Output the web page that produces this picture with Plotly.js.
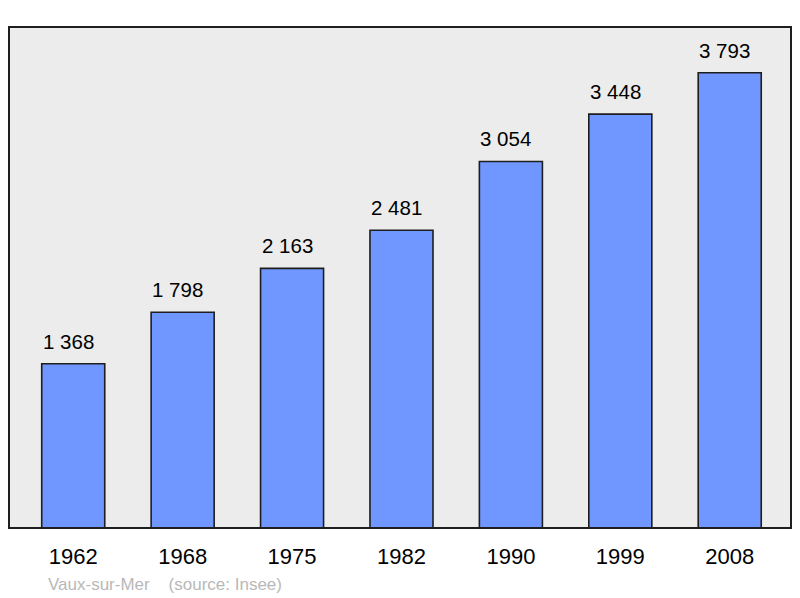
<!DOCTYPE html>
<html>
<head>
<meta charset="utf-8">
<script src="https://cdn.plot.ly/plotly-3.0.1.min.js"></script>
<style>
  html, body { margin: 0; padding: 0; background: #ffffff; }
  #grafico { width: 800px; height: 598px; }
</style>
</head>
<body>
<div id="grafico"></div>
<script>
// Population de Vaux-sur-Mer (source : Insee)
const annees = ['1962', '1968', '1975', '1982', '1990', '1999', '2008'];
const population = [1368, 1798, 2163, 2481, 3054, 3448, 3793];

const commune = 'Vaux-sur-Mer';
const source = '(source: Insee)';

function formater(n) {
  return String(n).replace(/\B(?=(\d{3})+(?!\d))/g, ' ');
}

const trazaBarras = {
  type: 'bar',
  x: annees,
  y: population,
  width: 0.576,
  marker: {
    color: '#7097ff',
    line: { color: '#1e1e1e', width: 1.6 }
  },
  hoverinfo: 'x+y'
};

const etiquetas = annees.map((a, i) => ({
  x: i,
  y: population[i],
  xref: 'x',
  yref: 'y',
  text: formater(population[i]),
  showarrow: false,
  xanchor: 'center',
  yanchor: 'bottom',
  xshift: -5,
  yshift: 9,
  font: { family: 'Liberation Sans, Arial, sans-serif', size: 20.5, color: '#000000' }
}));

// pied de page (pixels -> coordonnées papier)
const marge = { l: 9, r: 9, t: 27, b: 70 };
const largeur = 800 - marge.l - marge.r;
const hauteur = 598 - marge.t - marge.b;

etiquetas.push({
  x: (46 - marge.l) / largeur,
  y: (598 - marge.b - 584) / hauteur,
  xref: 'paper',
  yref: 'paper',
  text: commune + '&nbsp;&nbsp;&nbsp;&nbsp;' + source,
  showarrow: false,
  xanchor: 'left',
  yanchor: 'middle',
  font: { family: 'Liberation Sans, Arial, sans-serif', size: 17, color: '#b8b8b8' }
});

const layout = {
  width: 800,
  height: 598,
  margin: marge,
  showlegend: false,
  plot_bgcolor: '#ececec',
  paper_bgcolor: '#ffffff',
  font: { family: 'Liberation Sans, Arial, sans-serif', color: '#000000' },
  xaxis: {
    type: 'category',
    range: [-0.587, 6.56],
    showgrid: false,
    zeroline: false,
    showline: false,
    ticks: 'outside',
    ticklen: 9,
    tickcolor: 'rgba(0,0,0,0)',
    tickfont: { size: 22, color: '#000000' }
  },
  yaxis: {
    range: [0, 4174],
    showgrid: false,
    zeroline: false,
    showline: false,
    showticklabels: false,
    ticks: ''
  },
  shapes: [{
    type: 'rect',
    xref: 'paper',
    yref: 'paper',
    x0: 0, x1: 1, y0: 0, y1: 1,
    line: { color: '#1e1e1e', width: 2 },
    fillcolor: 'rgba(0,0,0,0)',
    layer: 'above'
  }],
  annotations: etiquetas
};

Plotly.newPlot('grafico', [trazaBarras], layout, { displayModeBar: false, staticPlot: true });
</script>
</body>
</html>
